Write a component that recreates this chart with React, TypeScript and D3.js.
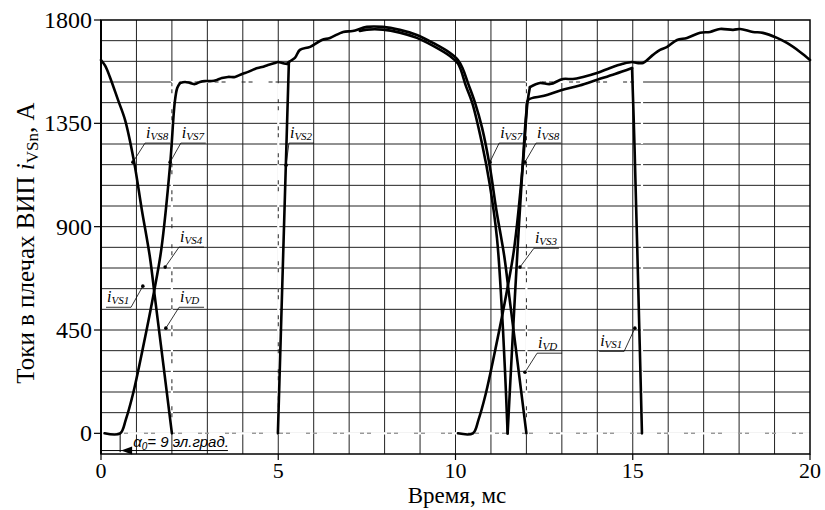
import React from 'react';
import * as d3 from 'd3';

const W = 825;
const H = 510;

const xTicks = [0, 5, 10, 15, 20];
const yTicks = [0, 450, 900, 1350, 1800];

// [время, мс; ток, А]
const iFall1 = [[0, 1626], [0.12, 1600], [0.25, 1552], [0.48, 1452], [0.68, 1364], [0.93, 1185], [1.15, 975], [1.38, 767], [1.52, 593], [1.75, 310], [2.0, 0]];
const iRise1 = [[0.1, 0], [0.54, 0], [0.7, 60], [0.9, 170], [1.18, 370], [1.5, 620], [1.7, 800], [1.95, 1170], [2.08, 1440], [2.15, 1504], [2.23, 1526]];
const iTop1 = [[2.23, 1526], [2.37, 1530], [2.51, 1526], [2.65, 1521], [2.79, 1530], [2.93, 1534], [3.13, 1534], [3.27, 1539], [3.41, 1547], [3.58, 1552], [3.78, 1552], [3.98, 1565], [4.15, 1574], [4.34, 1587], [4.54, 1595], [4.71, 1604], [4.91, 1613], [4.99, 1617], [5.11, 1613], [5.25, 1609]];
const iVS2 = [[4.99, 0], [5.3, 1617]];
const iHump = [[5.25, 1609], [5.3, 1617], [5.47, 1635], [5.61, 1670], [5.9, 1683], [6.23, 1713], [6.46, 1722], [6.83, 1748], [7.1, 1752], [7.5, 1770], [7.95, 1770], [8.43, 1757], [8.91, 1735], [9.37, 1700], [9.84, 1657], [10.07, 1626], [10.2, 1590], [10.35, 1526], [10.55, 1440], [10.75, 1330], [10.97, 1160], [11.15, 975], [11.38, 767], [11.52, 593], [11.75, 310], [12.0, 0]];
const iFall2 = [[7.3, 1752], [7.5, 1758], [7.95, 1758], [8.43, 1745], [8.91, 1722], [9.37, 1687], [9.84, 1643], [10.07, 1610], [10.3, 1510], [10.47, 1440], [10.75, 1260], [10.97, 1080], [11.17, 850], [11.3, 560], [11.4, 260], [11.47, 0]];
const iRise2 = [[10.07, 0], [10.49, 0], [10.65, 60], [10.85, 170], [11.13, 370], [11.45, 620], [11.65, 800], [11.9, 1170], [12.03, 1440], [12.1, 1508]];
const iTop2 = [[12.1, 1508], [12.38, 1526], [12.67, 1521], [13.03, 1543], [13.31, 1543], [13.6, 1552], [13.99, 1569], [14.36, 1591], [14.72, 1609], [14.98, 1617], [15.12, 1613], [15.29, 1613], [15.57, 1648], [15.77, 1670], [15.97, 1683], [16.25, 1713], [16.53, 1722], [16.9, 1744], [17.18, 1748], [17.46, 1761], [17.83, 1757], [18.03, 1761], [18.39, 1748], [18.67, 1744], [19.07, 1722], [19.35, 1700], [19.72, 1661], [20, 1626]];
const iLow2 = [[11.47, 0], [11.6, 380], [11.75, 800], [11.9, 1180], [12.0, 1400], [12.05, 1452], [12.5, 1470], [13, 1495], [13.5, 1515], [14, 1540], [14.5, 1565], [14.98, 1591]];
const iVS1end = [[14.98, 1591], [15.05, 1250], [15.15, 667], [15.26, 0]];

const curves = [iFall1, iRise1, iTop1, iVS2, iHump, iFall2, iRise2, iTop2, iLow2, iVS1end];

// подписи: индекс, начало текста (t, i), точка выноски (t, i), сторона выноски
const labelSubs = ['VS8', 'VS7', 'VS4', 'VS1', 'VD', 'VS2', 'VS7', 'VS8', 'VS3', 'VD', 'VS1'];
const labelAt = [[1.27, 1264], [2.28, 1264], [2.23, 811], [0.17, 549], [2.23, 549], [5.33, 1264], [11.26, 1264], [12.3, 1264], [12.24, 806], [12.33, 349], [14.08, 357]];
const labelTo = [[0.9, 1181], [1.95, 1181], [1.81, 724], [1.18, 641], [1.83, 458], [5.22, 1168], [10.97, 1181], [11.96, 1181], [11.82, 724], [11.96, 266], [15.06, 458]];
const labelSide = ['l', 'l', 'l', 'r', 'l', 'l', 'l', 'l', 'l', 'l', 'r'];

// белые штрихпунктирные линии
const dashLines = [
  [[0, 0], [20, 0]],
  [[2, 0], [2, 1530], [5, 1530], [5, 0]],
  [[12, 0], [12, 1530], [15.26, 1530], [15.26, 0]],
];

const alpha0 = 0.54;

export default function App() {
  const x = d3.scaleLinear().domain([0, 20]).range([101, 810]);
  const y = d3.scaleLinear().domain([-90, 1800]).range([454, 20]);
  const line = d3.line<number[]>().x(d => x(d[0])).y(d => y(d[1])).curve(d3.curveCatmullRom.alpha(0.5));
  const poly = d3.line<number[]>().x(d => x(d[0])).y(d => y(d[1]));

  const serif = "'Liberation Serif', 'Times New Roman', serif";

  return (
    <svg width={W} height={H} style={{ position: 'absolute', left: 0, top: 0, background: '#fff' }}>
      {/* сетка */}
      {d3.range(1, 20).map(t => (
        <line key={'v' + t} x1={x(t)} x2={x(t)} y1={y(1800)} y2={y(-90)} stroke="#222" strokeWidth={1} />
      ))}
      {d3.range(0, 1800, 90).map(v => (
        <line key={'h' + v} x1={x(0)} x2={x(20)} y1={y(v)} y2={y(v)} stroke={v === 0 ? '#999' : '#222'} strokeWidth={v === 0 ? 1.5 : 1} />
      ))}
      {dashLines.map((d, i) => (
        <path key={'d' + i} d={poly(d) || ''} fill="none" stroke="#fff" strokeWidth={2.2} strokeDasharray="16 4 3 4" />
      ))}

      {/* рамка */}
      <rect x={x(0)} y={y(1800)} width={x(20) - x(0)} height={y(-90) - y(1800)} fill="none" stroke="#000" strokeWidth={1.5} />
      <line x1={x(0)} x2={x(0)} y1={y(1800)} y2={y(-90)} stroke="#000" strokeWidth={2} />

      {/* кривые */}
      {curves.map((c, i) => (
        <path key={'c' + i} d={line(c) || ''} fill="none" stroke="#000" strokeWidth={2.6} strokeLinejoin="round" strokeLinecap="round" />
      ))}

      {/* оси */}
      {yTicks.map(v => (
        <g key={'yt' + v}>
          <line x1={x(0) - 7} x2={x(0)} y1={y(v)} y2={y(v)} stroke="#000" strokeWidth={1.2} />
          <text x={x(0) - 9} y={y(v) + 8} textAnchor="end" fontFamily={serif} fontSize={24}>{v}</text>
        </g>
      ))}
      {xTicks.map(t => (
        <g key={'xt' + t}>
          <line x1={x(t)} x2={x(t)} y1={y(-90)} y2={y(-90) + 6} stroke="#000" strokeWidth={1.2} />
          <text x={x(t)} y={478} textAnchor="middle" fontFamily={serif} fontSize={22}>{t}</text>
        </g>
      ))}
      <text x={457} y={503} textAnchor="middle" fontFamily={serif} fontSize={23}>Время, мс</text>
      <text transform="translate(34,243) rotate(-90)" textAnchor="middle" fontFamily={serif} fontSize={25}>
        Токи в плечах ВИП <tspan fontStyle="italic">i</tspan>
        <tspan fontSize={17} dy={4}>VSn</tspan>
        <tspan dy={-4}>, А</tspan>
      </text>

      {/* подписи токов */}
      {labelSubs.map((s, i) => {
        const tx = x(labelAt[i][0]);
        const ty = y(labelAt[i][1]);
        const ex = labelSide[i] === 'l' ? tx - 1 : tx + 24;
        const px = x(labelTo[i][0]);
        const py = y(labelTo[i][1]);
        return (
          <g key={'l' + i}>
            <text x={tx} y={ty - 5} fontFamily={serif} fontStyle="italic" fontSize={16}>
              i<tspan fontSize={11} dy={2}>{s}</tspan>
            </text>
            <line x1={tx - 1} x2={tx + 24} y1={ty} y2={ty} stroke="#000" strokeWidth={0.8} />
            <line x1={ex} y1={ty} x2={px} y2={py} stroke="#000" strokeWidth={0.8} />
            <circle cx={px} cy={py} r={1.8} fill="#000" />
          </g>
        );
      })}

      {/* угол α0 */}
      <line x1={x(alpha0)} x2={x(alpha0)} y1={y(0)} y2={y(-82)} stroke="#000" strokeWidth={1} />
      <line x1={x(0)} x2={x(3.58)} y1={y(-75)} y2={y(-75)} stroke="#000" strokeWidth={1} />
      <path d={`M${x(alpha0) + 1},${y(-75)} l11,-4 l0,8 z`} fill="#000" />
      <text x={x(alpha0) + 13} y={y(-58)} fontFamily="'Liberation Sans', Arial, sans-serif" fontStyle="italic" fontSize={15}>
        α<tspan fontSize={10} dy={3}>0</tspan><tspan dy={-3}>= 9 эл.град.</tspan>
      </text>
    </svg>
  );
}
